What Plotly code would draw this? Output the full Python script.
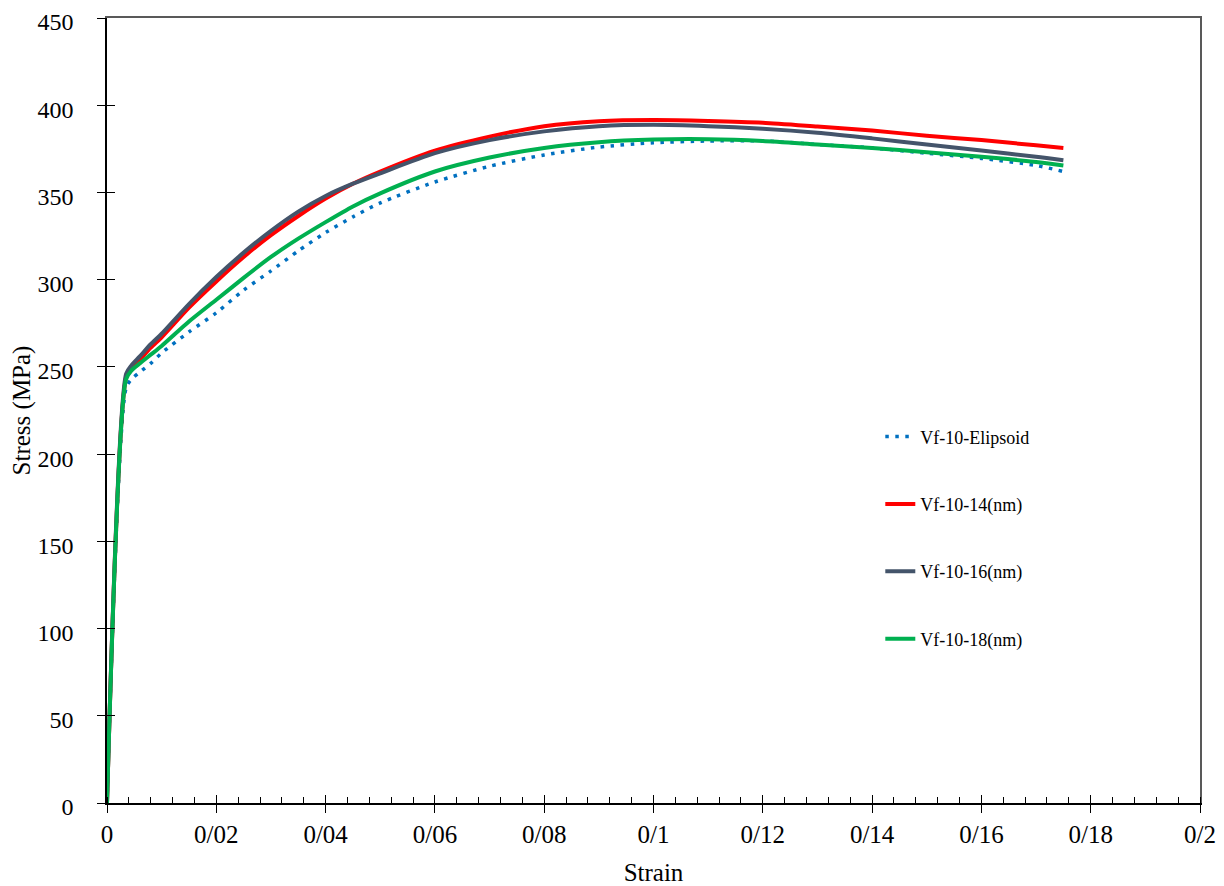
import plotly.graph_objects as go

strain = [0, 0.0035, 0.0045, 0.006, 0.008, 0.01, 0.015, 0.02, 0.025, 0.03, 0.035, 0.04,
          0.045, 0.05, 0.06, 0.07, 0.08, 0.09, 0.1, 0.11, 0.12, 0.13, 0.14, 0.15, 0.16,
          0.17, 0.175]

stress_elipsoid = [0, 238, 243, 247, 252, 258, 270, 281, 294, 305, 316.5, 327, 336, 344,
                   356, 365, 371.5, 376, 378.5, 379.5, 379.5, 377.5, 375.5, 372.5, 369.5,
                   365.5, 362]
stress_14nm = [0, 244, 249, 254, 261, 267, 284, 299, 313, 325.5, 336.5, 346.5, 355, 362,
               374, 382, 388, 390.8, 391.5, 391, 390, 387.8, 385.5, 382.5, 380, 377,
               375.5]
stress_16nm = [0, 246, 251, 256, 263, 269, 286, 301.5, 315.5, 328, 339, 348, 355, 361,
               372.5, 380, 385, 388, 388.8, 388, 386.5, 384.2, 381, 377.5, 374, 370.5,
               368.5]
stress_18nm = [0, 243, 248, 252, 257, 262, 276, 288.5, 301, 313, 323.5, 333, 342, 349.5,
               362, 370, 375.5, 378.8, 380.3, 380.5, 379.5, 377.5, 375.5, 373, 370.5,
               367.5, 365.5]

series_names = ["Vf-10-Elipsoid", "Vf-10-14(nm)", "Vf-10-16(nm)", "Vf-10-18(nm)"]

x_tickvals = [0, 0.02, 0.04, 0.06, 0.08, 0.1, 0.12, 0.14, 0.16, 0.18, 0.2]
x_ticktext = ["0", "0/02", "0/04", "0/06", "0/08", "0/1", "0/12", "0/14", "0/16", "0/18", "0/2"]
y_tickvals = [0, 50, 100, 150, 200, 250, 300, 350, 400, 450]

FONT = "Liberation Serif"
X_RANGE = [0, 0.2]
Y_RANGE = [0, 450]

fig = go.Figure()
styles = [
    dict(color="#0070C0", width=3.5, dash="3.5px,6.5px", shape="spline", smoothing=0.7),
    dict(color="#FF0000", width=4, shape="spline", smoothing=0.7),
    dict(color="#44546A", width=4, shape="spline", smoothing=0.7),
    dict(color="#00B050", width=4, shape="spline", smoothing=0.7),
]
for i, (name, ys, st) in enumerate(zip(series_names,
                                       [stress_elipsoid, stress_14nm, stress_16nm, stress_18nm],
                                       styles)):
    fig.add_trace(go.Scatter(x=strain, y=ys, mode="lines", name=name, line=st,
                             legendgroup=f"g{i}"))

# helper empty traces so overlay axes render
fig.add_trace(go.Scatter(x=[None], y=[None], xaxis="x2", yaxis="y2", showlegend=False,
                         hoverinfo="skip"))
fig.add_trace(go.Scatter(x=[None], y=[None], xaxis="x3", yaxis="y3", showlegend=False,
                         hoverinfo="skip"))

# the page body has an 8px margin, so the figure is sized/offset to compensate
fig.update_layout(
    width=1216, height=878,
    margin=dict(l=99, r=24, t=10, b=83, autoexpand=False),
    paper_bgcolor="white", plot_bgcolor="white",
    font=dict(family=FONT, color="black", size=25),
    showlegend=True,
    legend=dict(
        x=0.7075, y=0.49, xanchor="left", yanchor="top",
        font=dict(family=FONT, size=18, color="black"),
        tracegroupgap=41, bgcolor="rgba(0,0,0,0)",
    ),
    xaxis=dict(
        range=X_RANGE, tickvals=x_tickvals, ticktext=x_ticktext, automargin=False,
        ticks="outside", ticklen=8, tickwidth=1.3, tickcolor="black",
        showline=True, linecolor="black", linewidth=1.5,
        showgrid=False, zeroline=False, ticklabeloverflow="allow",
        minor=dict(ticks="inside", dtick=0.004, tick0=0, ticklen=6, tickcolor="black",
                   tickwidth=1.2, showgrid=False),
        tickfont=dict(family=FONT, size=25),
        ticklabelstandoff=0,
        title=dict(text="Strain", font=dict(family=FONT, size=25), standoff=28),
    ),
    yaxis=dict(
        range=Y_RANGE, tickvals=y_tickvals, automargin=False,
        ticks="outside", ticklen=8, tickwidth=1.3, tickcolor="black",
        showline=True, linecolor="black", linewidth=1.5,
        showgrid=False, zeroline=False, ticklabeloverflow="allow",
        tickfont=dict(family=FONT, size=24),
        ticklabelstandoff=19, ticklabelshift=4,
        title=dict(text="Stress (MPa)", font=dict(family=FONT, size=25), standoff=0),
    ),
    xaxis2=dict(
        range=X_RANGE, overlaying="x", side="bottom", tickvals=x_tickvals, automargin=False,
        ticks="inside", ticklen=8, tickwidth=1.3, tickcolor="black",
        showticklabels=False, showline=False, showgrid=False, zeroline=False,
    ),
    yaxis2=dict(
        range=Y_RANGE, overlaying="y", side="left", tickvals=y_tickvals, automargin=False,
        ticks="inside", ticklen=8, tickwidth=1.3, tickcolor="black",
        showticklabels=False, showline=False, showgrid=False, zeroline=False,
    ),
    xaxis3=dict(
        range=X_RANGE, overlaying="x", side="top", ticks="", showticklabels=False,
        automargin=False,
        showline=True, linecolor="#595959", linewidth=1.5, showgrid=False, zeroline=False,
    ),
    yaxis3=dict(
        range=Y_RANGE, overlaying="y", side="right", ticks="", showticklabels=False,
        automargin=False,
        showline=True, linecolor="#595959", linewidth=1.5, showgrid=False, zeroline=False,
    ),
)

fig.write_html("out.html")
